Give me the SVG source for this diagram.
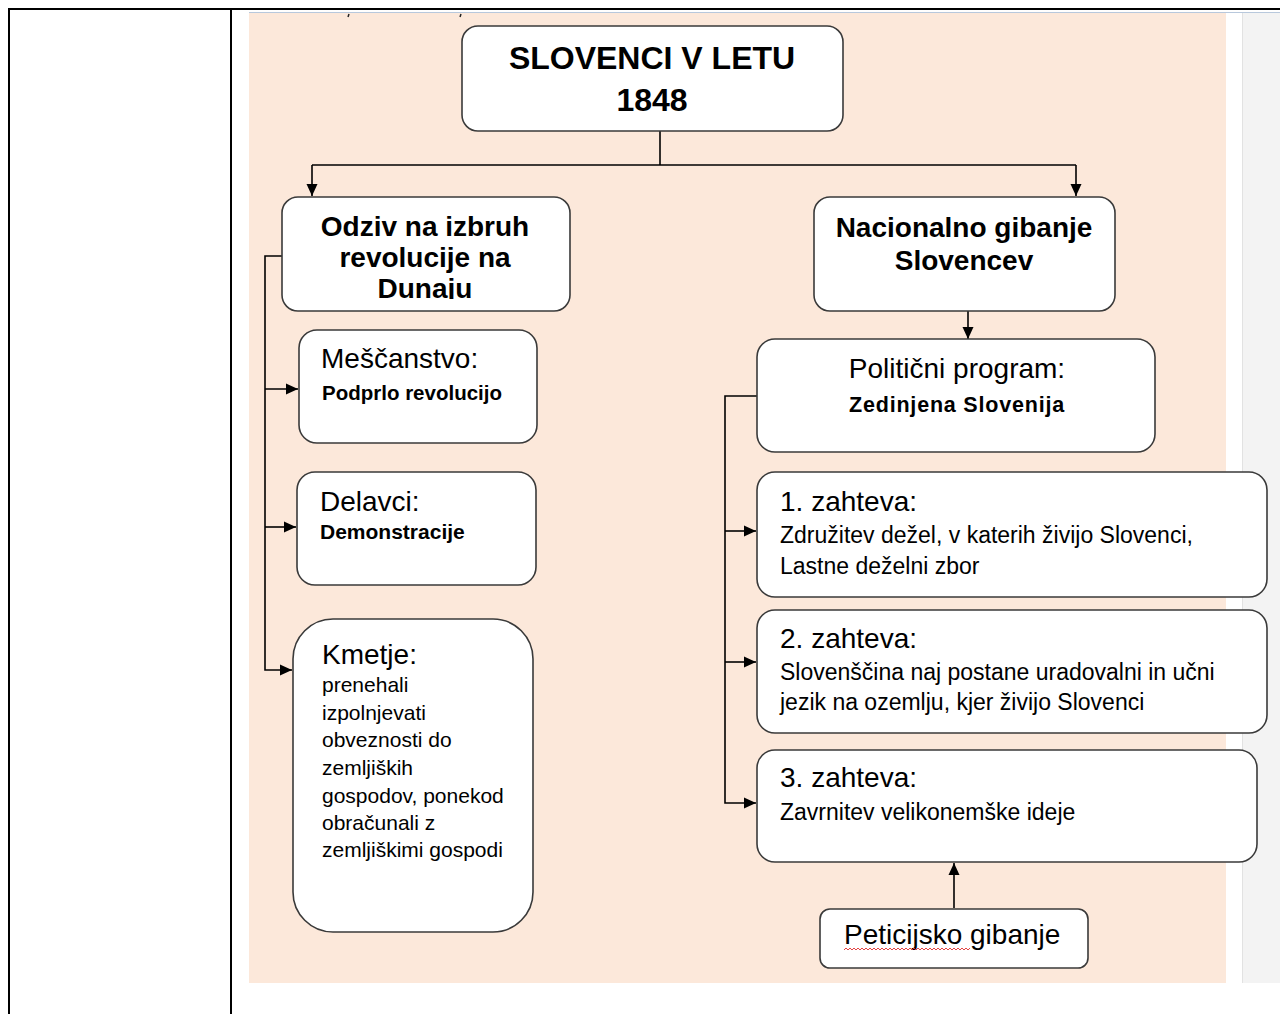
<svg xmlns="http://www.w3.org/2000/svg" width="1280" height="1014" viewBox="0 0 1280 1014">
<style>
.box{fill:#fff;stroke:#3a3a3a;stroke-width:1.6}
.t{font-family:"Liberation Sans",Arial,sans-serif;fill:#000}
.b{font-weight:bold}
.big{font-size:28px}
.con{fill:none;stroke:#000;stroke-width:1.6}
</style>
<defs>
<marker id="ah" markerUnits="userSpaceOnUse" markerWidth="13" markerHeight="13" refX="12" refY="6.5" orient="auto">
<path d="M0,1 L12,6.5 L0,12 z" fill="#000"/>
</marker>
<clipPath id="clipOdziv"><rect x="282" y="197" width="288" height="102"/></clipPath>
</defs>
<rect width="1280" height="1014" fill="#fff"/>
<!-- page background -->
<rect x="249" y="13" width="977" height="970" fill="#fce8da"/>
<rect x="1242" y="13" width="38" height="970" fill="#f3f3f3"/>
<line x1="1242.5" y1="13" x2="1242.5" y2="983" stroke="#e2e2e2" stroke-width="1"/>
<line x1="249" y1="12.5" x2="1280" y2="12.5" stroke="#b8c8dc" stroke-width="1"/>
<!-- table lines -->
<line x1="8" y1="9" x2="1280" y2="9" stroke="#000" stroke-width="2"/>
<line x1="9" y1="9" x2="9" y2="1014" stroke="#000" stroke-width="2"/>
<line x1="231" y1="9" x2="231" y2="1014" stroke="#000" stroke-width="2"/>
<!-- small fragments at top -->
<line x1="349" y1="14" x2="348" y2="17" stroke="#222" stroke-width="1.5"/>
<line x1="461" y1="14" x2="460" y2="17" stroke="#222" stroke-width="1.5"/>

<g id="connectors">
<polyline class="con" points="660,131 660,165"/>
<polyline class="con" points="312,165 1076,165"/>
<polyline class="con" points="312,165 312,196" marker-end="url(#ah)"/>
<polyline class="con" points="1076,165 1076,196" marker-end="url(#ah)"/>
<polyline class="con" points="282,256 265,256 265,670 292,670" marker-end="url(#ah)"/>
<polyline class="con" points="265,389 298,389" marker-end="url(#ah)"/>
<polyline class="con" points="265,527 296,527" marker-end="url(#ah)"/>
<polyline class="con" points="968,311 968,339" marker-end="url(#ah)"/>
<polyline class="con" points="757,396 725,396 725,803 756,803" marker-end="url(#ah)"/>
<polyline class="con" points="725,531 756,531" marker-end="url(#ah)"/>
<polyline class="con" points="725,662 756,662" marker-end="url(#ah)"/>
<polyline class="con" points="954,908 954,863" marker-end="url(#ah)"/>
</g>

<g id="title">
<rect class="box" x="462" y="26" width="381" height="105" rx="16"/>
<text class="t b" font-size="32" x="652" y="69" text-anchor="middle">SLOVENCI V LETU</text>
<text class="t b" font-size="32" x="652" y="111" text-anchor="middle">1848</text>
</g>

<g id="odziv">
<rect class="box" x="282" y="197" width="288" height="114" rx="16"/>
<g clip-path="url(#clipOdziv)">
<text class="t b big" x="425" y="236" text-anchor="middle">Odziv na izbruh</text>
<text class="t b big" x="425" y="267" text-anchor="middle">revolucije na</text>
<text class="t b big" x="425" y="298" text-anchor="middle">Dunaju</text>
</g>
</g>

<g id="nacionalno">
<rect class="box" x="814" y="197" width="301" height="114" rx="16"/>
<text class="t b big" x="964" y="237" text-anchor="middle">Nacionalno gibanje</text>
<text class="t b big" x="964" y="270" text-anchor="middle">Slovencev</text>
</g>

<g id="mescanstvo">
<rect class="box" x="299" y="330" width="238" height="113" rx="18"/>
<text class="t big" x="321" y="368">Meščanstvo:</text>
<text class="t b" font-size="20.5" x="322" y="400">Podprlo revolucijo</text>
</g>

<g id="delavci">
<rect class="box" x="297" y="472" width="239" height="113" rx="18"/>
<text class="t big" x="320" y="511">Delavci:</text>
<text class="t b" font-size="21" x="320" y="539">Demonstracije</text>
</g>

<g id="kmetje">
<rect class="box" x="293" y="619" width="240" height="313" rx="40"/>
<text class="t big" x="322" y="664">Kmetje:</text>
<text class="t" font-size="21">
<tspan x="322" y="692">prenehali</tspan>
<tspan x="322" y="720">izpolnjevati</tspan>
<tspan x="322" y="747">obveznosti do</tspan>
<tspan x="322" y="775">zemljiških</tspan>
<tspan x="322" y="803">gospodov, ponekod</tspan>
<tspan x="322" y="830">obračunali z</tspan>
<tspan x="322" y="857">zemljiškimi gospodi</tspan>
</text>
</g>

<g id="politicni">
<rect class="box" x="757" y="339" width="398" height="113" rx="18"/>
<text class="t big" x="957" y="378" text-anchor="middle">Politični program:</text>
<text class="t b" font-size="21.5" x="957" y="412" text-anchor="middle" letter-spacing="0.8">Zedinjena Slovenija</text>
</g>

<g id="zahteva1">
<rect class="box" x="757" y="472" width="510" height="125" rx="18"/>
<text class="t big" x="780" y="511">1. zahteva:</text>
<text class="t" font-size="23" x="780" y="543">Združitev dežel, v katerih živijo Slovenci,</text>
<text class="t" font-size="23" x="780" y="574">Lastne deželni zbor</text>
</g>

<g id="zahteva2">
<rect class="box" x="757" y="610" width="510" height="123" rx="18"/>
<text class="t big" x="780" y="648">2. zahteva:</text>
<text class="t" font-size="23" x="780" y="680">Slovenščina naj postane uradovalni in učni</text>
<text class="t" font-size="23" x="780" y="710">jezik na ozemlju, kjer živijo Slovenci</text>
</g>

<g id="zahteva3">
<rect class="box" x="757" y="750" width="500" height="112" rx="18"/>
<text class="t big" x="780" y="787">3. zahteva:</text>
<text class="t" font-size="23" x="780" y="820">Zavrnitev velikonemške ideje</text>
</g>

<g id="peticijsko">
<rect class="box" x="820" y="909" width="268" height="59" rx="10"/>
<text class="t big" x="844" y="944">Peticijsko gibanje</text>
<path d="M844,950 l2,-2 l2,2 l2,-2 l2,2 l2,-2 l2,2 l2,-2 l2,2 l2,-2 l2,2 l2,-2 l2,2 l2,-2 l2,2 l2,-2 l2,2 l2,-2 l2,2 l2,-2 l2,2 l2,-2 l2,2 l2,-2 l2,2 l2,-2 l2,2 l2,-2 l2,2 l2,-2 l2,2 l2,-2 l2,2 l2,-2 l2,2 l2,-2 l2,2 l2,-2 l2,2 l2,-2 l2,2 l2,-2 l2,2 l2,-2 l2,2 l2,-2 l2,2 l2,-2 l2,2 l2,-2 l2,2 l2,-2 l2,2 l2,-2 l2,2 l2,-2 l2,2 l2,-2 l2,2 l2,-2 l2,2 l2,-2 l2,2 l2,-2" fill="none" stroke="#e03030" stroke-width="0.9"/>
</g>
</svg>
